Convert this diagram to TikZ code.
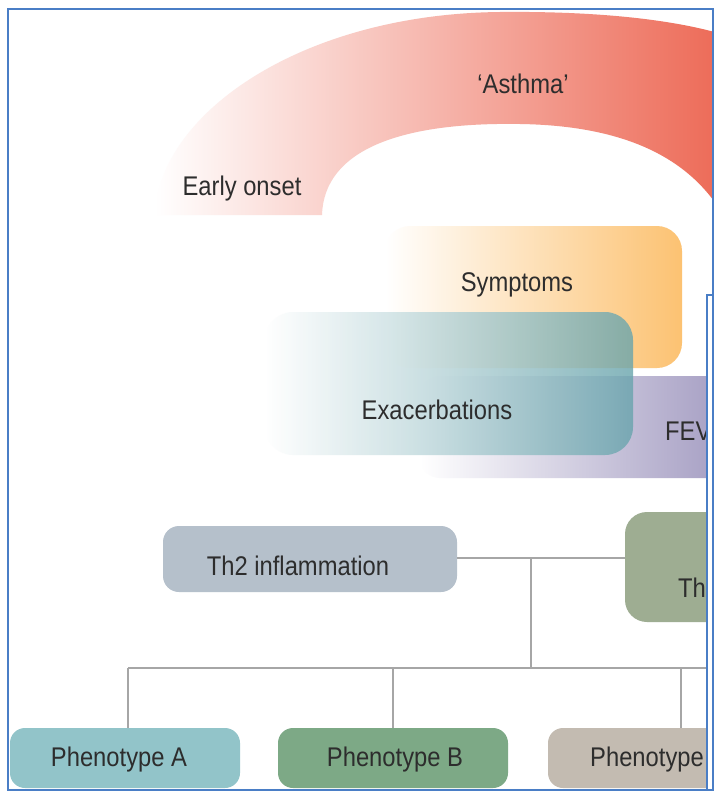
\documentclass[tikz,border=0pt]{standalone}
\usepackage{fontspec}
\setmainfont{Liberation Sans}[FakeStretch=0.88]
\definecolor{asthmaR}{RGB}{236,100,80}
\definecolor{sympR}{RGB}{252,194,114}
\definecolor{exR}{RGB}{104,164,172}
\definecolor{fevR}{RGB}{158,150,190}
\definecolor{thtwo}{RGB}{181,192,203}
\definecolor{thR}{RGB}{158,173,146}
\definecolor{phAc}{RGB}{146,196,201}
\definecolor{phBc}{RGB}{125,169,134}
\definecolor{phCc}{RGB}{195,187,177}
\definecolor{linec}{RGB}{166,166,166}
\definecolor{framec}{RGB}{74,126,198}
\definecolor{txt}{RGB}{45,45,45}
\tikzset{
  lbl/.style={text=txt, inner sep=0pt, font=\fontsize{27}{30}\selectfont},
  boxbase/.style={draw=none, inner sep=0pt},
  conn/.style={draw=linec, line width=2pt},
  framestyle/.style={draw=framec, line width=2.5pt}
}
\begin{document}
\begin{tikzpicture}[x=1pt,y=-1pt]
\useasboundingbox (0,0) rectangle (720,792);
\fill[white] (0,0) rectangle (720,792);
\begin{scope}
\clip (8,9) -- (713,9) -- (713,295) -- (707,295) -- (707,790) -- (8,790) -- cycle;
% Asthma arch
\path[left color=white, right color=asthmaR]
  (155,215) .. controls (158,115) and (300,14) .. (500,12)
  .. controls (600,11) and (690,20) .. (745,42)
  -- (745,270)
  .. controls (722,175) and (650,126) .. (520,124)
  .. controls (400,122) and (324,150) .. (322,215) -- cycle;
\node[lbl] (asthma) at (523,84) {‘Asthma’};
\node[lbl] (early) at (242,189) {Early onset};
% Symptoms
\node[boxbase, rounded corners=25pt, left color=white, right color=sympR,
      minimum width=297pt, minimum height=142pt] (symp) at (533.5,297) {};
\node[lbl] (symptxt) at (517,285) {Symptoms};
% FEV
\node[boxbase, rounded corners=20pt, left color=white, right color=fevR,
      minimum width=330pt, minimum height=102pt] (fev) at (585,427) {};
\node[lbl, anchor=west] (fevtxt) at (665,431) {FEV};
% Exacerbations
\node[boxbase, rounded corners=28pt, left color=white, right color=exR, fill opacity=0.8,
      minimum width=368pt, minimum height=143pt] (exac) at (449,383.5) {};
\node[lbl] (exactxt) at (437,410) {Exacerbations};
% Th2 inflammation
\node[boxbase, rounded corners=16pt, fill=thtwo,
      minimum width=294pt, minimum height=66pt] (th2) at (310,559) {};
\node[lbl] (th2txt) at (298,566) {Th2 inflammation};
% right box
\node[boxbase, rounded corners=22pt, fill=thR,
      minimum width=150pt, minimum height=110pt] (thr) at (700,567) {};
\node[lbl, anchor=west] (thrtxt) at (678,588) {Th};
% phenotypes
\node[boxbase, rounded corners=15pt, fill=phAc,
      minimum width=230pt, minimum height=60pt] (phA) at (125,758) {};
\node[lbl] (phAtxt) at (119,760) {Phenotype A};
\node[boxbase, rounded corners=15pt, fill=phBc,
      minimum width=230pt, minimum height=60pt] (phB) at (393,758) {};
\node[lbl] (phBtxt) at (395,760) {Phenotype B};
\node[boxbase, rounded corners=15pt, fill=phCc,
      minimum width=240pt, minimum height=60pt] (phC) at (668,758) {};
\node[lbl, anchor=west] (phCtxt) at (590,760) {Phenotype};
% connectors
\coordinate (j) at (531,558);
\coordinate (bus) at (531,668);
\coordinate (busL) at (128,668);
\coordinate (busR) at (730,668);
\coordinate (dA) at (128,668);
\coordinate (dB) at (393,668);
\coordinate (dC) at (681,668);
\draw[conn] (th2.east |- j) -- (thr.west |- j);
\draw[conn] (j) -- (bus);
\draw[conn] (busL) -- (busR);
\draw[conn] (dA) -- (dA |- phA.north);
\draw[conn] (dB) -- (dB |- phB.north);
\draw[conn] (dC) -- (dC |- phC.north);
\end{scope}
% frame
\draw[framestyle] (8,9) rectangle (713,790);
\draw[framestyle] (713,295) -- (707,295) -- (707,790);
\end{tikzpicture}
\end{document}
